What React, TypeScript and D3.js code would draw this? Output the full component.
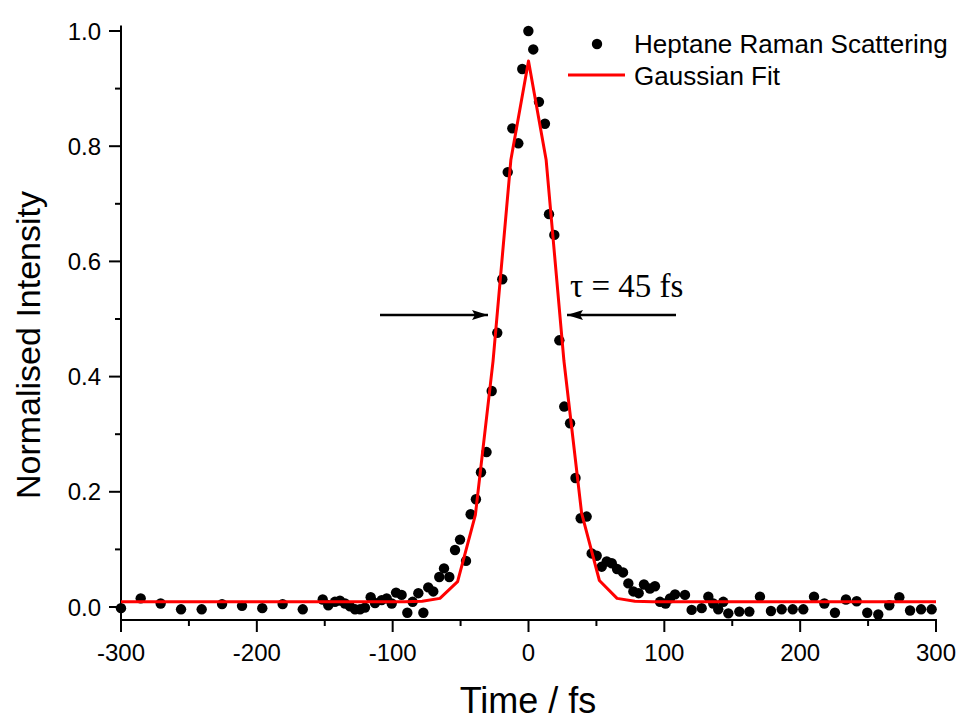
import React from "react";
import * as d3 from "d3";

const scatterTime = [-300, -285.5, -270.8, -255.8, -240.6, -225.6, -210.9, -196, -181, -166.2, -151.5, -147.4, -142.5, -138.8, -135.1, -131.4, -127.7, -124, -120.4, -116.2, -113, -108.1, -104.4, -100.7, -97.5, -93.4, -89.2, -85.3, -81.1, -77.4, -73.8, -70.1, -65.7, -62.2, -58.3, -54.1, -50.4, -46, -42.6, -38.7, -35, -30.9, -27.1, -23, -19.3, -15.3, -11.9, -7.5, -4.6, -0.1, 3.5, 7.7, 12.1, 15.1, 19, 22.7, 26.3, 30.6, 34.6, 38.4, 42.8, 46.5, 50.2, 53.9, 57.6, 61.3, 65.2, 69.6, 73.5, 77.2, 81.1, 85, 89.4, 93.1, 96.8, 100.9, 104.2, 107.9, 115.2, 120.1, 127.5, 132.4, 136, 139.7, 143.4, 147.1, 155.2, 162.6, 170.4, 178.5, 186.4, 194.5, 202.3, 210.2, 217.8, 225.6, 233.7, 241.6, 249.4, 257.5, 265.6, 273, 280.9, 289, 296.8];

const scatterIntensity = [-0.002, 0.015, 0.006, -0.004, -0.004, 0.005, 0.002, -0.002, 0.005, -0.004, 0.013, 0.003, 0.009, 0.011, 0.006, 0.001, -0.004, -0.004, -0.001, 0.017, 0.007, 0.012, 0.015, 0.006, 0.025, 0.021, -0.010, 0.009, 0.024, -0.010, 0.034, 0.027, 0.052, 0.067, 0.052, 0.099, 0.117, 0.080, 0.161, 0.187, 0.234, 0.269, 0.375, 0.476, 0.569, 0.755, 0.831, 0.805, 0.934, 1.0, 0.968, 0.877, 0.839, 0.682, 0.646, 0.463, 0.348, 0.319, 0.224, 0.154, 0.157, 0.093, 0.089, 0.070, 0.079, 0.076, 0.066, 0.060, 0.041, 0.027, 0.024, 0.039, 0.032, 0.036, 0.009, 0.006, 0.015, 0.022, 0.021, -0.005, -0.002, 0.018, 0.006, -0.004, 0.009, -0.011, -0.008, -0.008, 0.018, -0.007, -0.004, -0.004, -0.004, 0.018, 0.006, -0.010, 0.013, 0.010, -0.010, -0.013, 0.003, 0.017, -0.006, -0.004, -0.004];

const fitTime = [-300, -287, -273.9, -260.9, -247.8, -234.8, -221.7, -208.7, -195.7, -182.6, -169.6, -156.5, -143.5, -130.4, -117.4, -104.3, -91.3, -78.3, -65.2, -52.2, -39.1, -26.1, -13, 0, 13, 26.1, 39.1, 52.2, 65.2, 78.3, 91.3, 104.3, 117.4, 130.4, 143.5, 156.5, 169.6, 182.6, 195.7, 208.7, 221.7, 234.8, 247.8, 260.9, 273.9, 287, 300];

const fitIntensity = [0.009, 0.009, 0.009, 0.009, 0.009, 0.009, 0.009, 0.009, 0.009, 0.009, 0.009, 0.009, 0.009, 0.009, 0.009, 0.009, 0.009, 0.010, 0.015, 0.044, 0.160, 0.427, 0.776, 0.948, 0.776, 0.427, 0.163, 0.046, 0.015, 0.010, 0.009, 0.009, 0.009, 0.009, 0.009, 0.009, 0.009, 0.009, 0.009, 0.009, 0.009, 0.009, 0.009, 0.009, 0.009, 0.009, 0.009];

const xTickLabels = ["-300", "-200", "-100", "0", "100", "200", "300"];
const yTickLabels = ["0.0", "0.2", "0.4", "0.6", "0.8", "1.0"];
const legendLabels = ["Heptane Raman Scattering", "Gaussian Fit"];
const xTitle = "Time / fs";
const yTitle = "Normalised Intensity";
const annotation = "τ = 45 fs";

export default function App() {
  const x = d3.scaleLinear().domain([-300, 300]).range([121, 936]);
  const y = d3.scaleLinear().domain([0, 1]).range([607, 31]);
  const yAxisBottom = 620;
  const yAxisTop = 25.5;
  const sans = "'Liberation Sans', Arial, sans-serif";

  const xMajor = d3.range(-300, 301, 100);
  const xMinor = d3.range(-250, 300, 100);
  const yMajor = d3.range(0, 1.001, 0.2);
  const yMinor = d3.range(0.1, 1, 0.2);

  const fitData = fitTime.map((t, i) => [t, fitIntensity[i]] as [number, number]);
  const line = d3.line<[number, number]>().x(d => x(d[0])).y(d => y(d[1]));

  const arrowY = 315;

  return (
    <svg width={961} height={720} style={{ position: "absolute", left: 0, top: 0, background: "#fff" }}>
      <defs>
        <marker id="ah" viewBox="0 0 16 10" refX="16" refY="5" markerWidth="16" markerHeight="10" markerUnits="userSpaceOnUse" orient="auto">
          <path d="M0,0 L16,5 L0,10 L3,5 Z" fill="#000" />
        </marker>
      </defs>
      <line x1={121} x2={121} y1={yAxisTop} y2={yAxisBottom} stroke="#000" strokeWidth={2} />
      <line x1={120} x2={937} y1={yAxisBottom} y2={yAxisBottom} stroke="#000" strokeWidth={2} />
      {yMajor.map((v, i) => (
        <g key={"ym" + i}>
          <line x1={109} x2={121} y1={y(v)} y2={y(v)} stroke="#000" strokeWidth={2} />
          <text x={101} y={y(v)} dy="0.36em" textAnchor="end" fontFamily={sans} fontSize={24}>{yTickLabels[i]}</text>
        </g>
      ))}
      {yMinor.map((v, i) => (
        <line key={"yn" + i} x1={115} x2={121} y1={y(v)} y2={y(v)} stroke="#000" strokeWidth={2} />
      ))}
      {xMajor.map((v, i) => (
        <g key={"xm" + i}>
          <line x1={x(v)} x2={x(v)} y1={yAxisBottom} y2={yAxisBottom + 12} stroke="#000" strokeWidth={2} />
          <text x={x(v)} y={661} textAnchor="middle" fontFamily={sans} fontSize={24}>{xTickLabels[i]}</text>
        </g>
      ))}
      {xMinor.map((v, i) => (
        <line key={"xn" + i} x1={x(v)} x2={x(v)} y1={yAxisBottom} y2={yAxisBottom + 6} stroke="#000" strokeWidth={2} />
      ))}
      <text x={528} y={713} textAnchor="middle" fontFamily={sans} fontSize={36}>{xTitle}</text>
      <text transform="translate(40,345) rotate(-90)" textAnchor="middle" fontFamily={sans} fontSize={34}>{yTitle}</text>
      {scatterTime.map((t, i) => (
        <circle key={"p" + i} cx={x(t)} cy={y(scatterIntensity[i])} r={5.2} fill="#000" />
      ))}
      <path d={line(fitData) || ""} fill="none" stroke="#ff0000" strokeWidth={3} strokeLinejoin="round" />
      <line x1={380} x2={488} y1={arrowY} y2={arrowY} stroke="#000" strokeWidth={2.5} markerEnd="url(#ah)" />
      <line x1={676} x2={567} y1={arrowY} y2={arrowY} stroke="#000" strokeWidth={2.5} markerEnd="url(#ah)" />
      <text x={570} y={297} fontFamily="'Liberation Serif', 'Times New Roman', serif" fontSize={33}>{annotation}</text>
      <circle cx={597} cy={44} r={5.2} fill="#000" />
      <text x={634} y={53} fontFamily={sans} fontSize={26}>{legendLabels[0]}</text>
      <line x1={568} x2={625} y1={75} y2={75} stroke="#ff0000" strokeWidth={3} />
      <text x={634} y={85} fontFamily={sans} fontSize={26}>{legendLabels[1]}</text>
    </svg>
  );
}
